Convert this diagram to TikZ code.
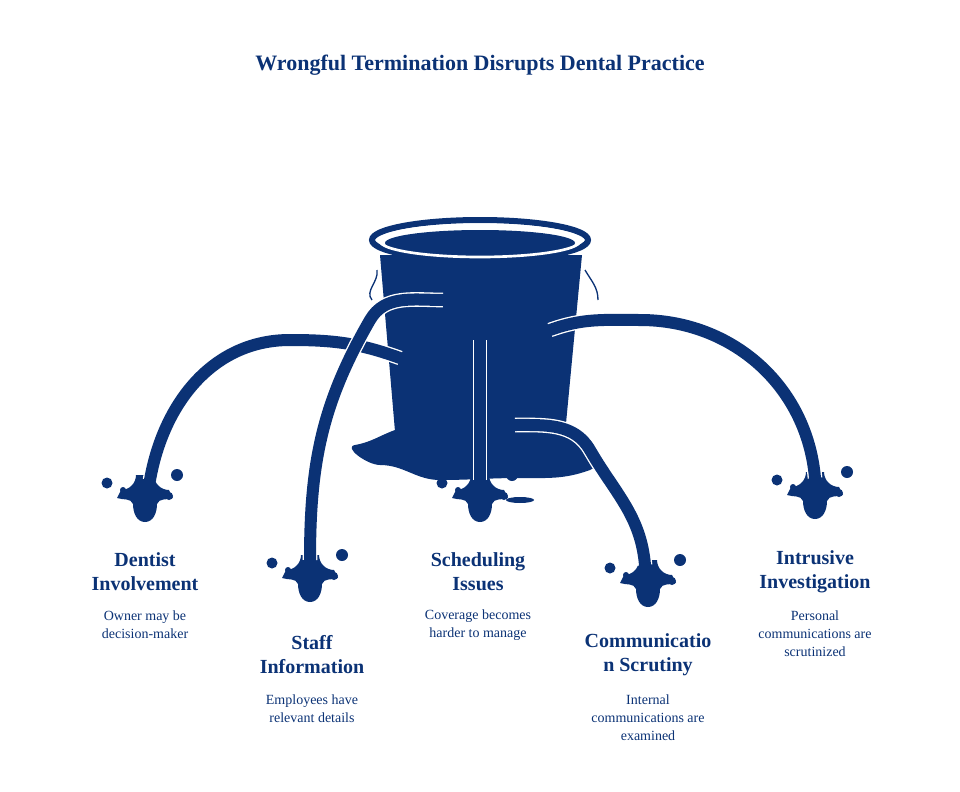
\documentclass[tikz,border=0pt]{standalone}
\usepackage{fontspec}
\setmainfont{Liberation Serif}
\begin{document}
\begin{tikzpicture}[x=0.75pt,y=-0.75pt]
\definecolor{nb}{HTML}{0B3275}
\tikzset{
 stream/.style={draw=nb,line width=9pt,line cap=round,preaction={draw=white,line width=11pt}},
 ttl/.style={font=\bfseries\fontsize{15}{18}\selectfont,text=nb,align=center},
 desc/.style={font=\fontsize{10.5}{13.5}\selectfont,text=nb,align=center},
 drip/.pic={\fill[nb] (-9,-25) -- (9,-25) to[out=-90,in=180] (24,-10) -- (28,-2) to[out=200,in=70] (12,4) to[out=-90,in=0] (0,22) to[out=180,in=-90] (-12,4) to[out=110,in=-20] (-28,-2) -- (-24,-10) to[out=0,in=-90] (-9,-25) -- cycle;
   \fill[nb] (-38,-17) circle (5.5) (32,-25) circle (6) (-22,-10) circle (3) (24,-4) circle (4);}
}
\useasboundingbox (0,0) rectangle (960,792);
\node[ttl,font=\bfseries\fontsize{16.5}{20}\selectfont] (title) at (480,65) {Wrongful Termination Disrupts Dental Practice};
% puddle
\fill[nb] (395,430) to[out=200,in=10] (355,445) to[out=190,in=180] (380,465) to[out=0,in=180] (440,480) to[out=0,in=180] (520,478) to[out=0,in=200] (590,470) to[out=20,in=0] (570,430) -- cycle;
\fill[nb] (520,500) ellipse (14 and 3);
% bucket body
\fill[nb] (380,255) -- (582,255) -- (563,455) to[out=-100,in=0] (535,468) -- (425,468) to[out=180,in=-80] (397,455) -- cycle;
% rim
\draw[nb,line width=4.5pt] (480,240) ellipse (108 and 20);
\fill[nb] (480,243) ellipse (95 and 13);
\draw[white,line width=2pt] (480,241) ellipse (100 and 16);
\draw[nb,line width=1pt] (377,270) to[out=-80,in=130] (372,300);
\draw[nb,line width=1pt] (585,270) to[out=-60,in=90] (598,300);
% drips
\pic at (145,500) {drip};
\pic at (310,580) {drip};
\pic at (480,500) {drip};
\pic at (648,585) {drip};
\pic at (815,497) {drip};
\coordinate (s1) at (400,358); \coordinate (e1) at (150,480);
\coordinate (s2) at (443,300); \coordinate (e2) at (310,560);
\coordinate (s3) at (480,340); \coordinate (e3) at (480,480);
\coordinate (s4) at (515,425); \coordinate (e4) at (645,565);
\coordinate (s5) at (550,330); \coordinate (e5) at (815,478);
\draw[stream] (s1) to[out=160,in=0] (290,340) to[out=180,in=80] (e1);
\draw[stream] (s2) to[out=180,in=60] (370,320) to[out=240,in=90] (e2);
\draw[stream] (s3) -- (e3);
\draw[stream] (s4) to[out=0,in=120] (590,450) to[out=-60,in=95] (e4);
\draw[stream] (s5) to[out=20,in=180] (640,320) to[out=0,in=95] (e5);
% labels
\node[ttl] (t1) at (145,572) {Dentist\\Involvement};
\node[desc] (d1) at (145,625) {Owner may be\\decision-maker};
\node[ttl] (t2) at (312,655) {Staff\\Information};
\node[desc] (d2) at (312,709) {Employees have\\relevant details};
\node[ttl] (t3) at (478,572) {Scheduling\\Issues};
\node[desc] (d3) at (478,625) {Coverage becomes\\harder to manage};
\node[ttl] (t4) at (648,655) {Communicatio\\n Scrutiny};
\node[desc] (d4) at (648,718) {Internal\\communications are\\examined};
\node[ttl] (t5) at (815,572) {Intrusive\\Investigation};
\node[desc] (d5) at (815,634) {Personal\\communications are\\scrutinized};
\end{tikzpicture}
\end{document}
